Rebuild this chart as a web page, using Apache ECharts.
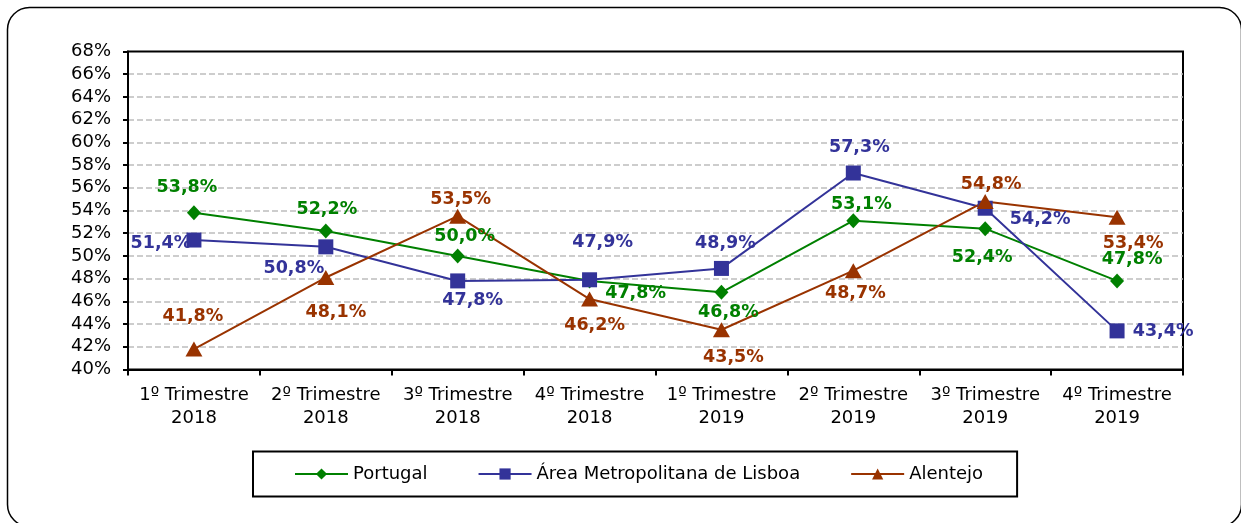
<!DOCTYPE html>
<html>
<head>
<meta charset="utf-8">
<script src="https://cdn.jsdelivr.net/npm/echarts@6/dist/echarts.min.js"></script>
<style>
html,body{margin:0;padding:0;background:#fff;}
#c{width:1241px;height:523px;}
</style>
</head>
<body>
<div id="c"></div>
<script>
var categories = ['1º Trimestre\n2018','2º Trimestre\n2018','3º Trimestre\n2018','4º Trimestre\n2018','1º Trimestre\n2019','2º Trimestre\n2019','3º Trimestre\n2019','4º Trimestre\n2019'];
var portugal = [53.8, 52.2, 50.0, 47.8, 46.8, 53.1, 52.4, 47.8];
var lisboa = [51.4, 50.8, 47.8, 47.9, 48.9, 57.3, 54.2, 43.4];
var alentejo = [41.8, 48.1, 53.5, 46.2, 43.5, 48.7, 54.8, 53.4];
var seriesNames = ['Portugal', 'Área Metropolitana de Lisboa', 'Alentejo'];

// label placement (style only): offsets of label centre from marker centre
var portugalLabelOffsets = [[-7,-25],[1,-21],[7,-19],[46,13],[7,20],[8,-16],[-3,29],[15,-21]];
var lisboaLabelOffsets = [[-33,3],[-32,22],[15,20],[13,-37],[4,-25],[6,-26],[55,11],[46,1]];
var alentejoLabelOffsets = [[-1,-33],[10,35],[3,-17],[5,26],[12,28],[2,23],[6,-17],[16,26]];

var FONT = 'DejaVu Sans';

function fmt(v){ return v.toFixed(1).replace('.', ',') + '%'; }

function buildData(values, offsets, color){
  return values.map(function(v, i){
    return {
      value: v,
      label: {
        show: true,
        position: 'inside',
        offset: offsets[i],
        color: color,
        fontFamily: FONT,
        fontWeight: 'bold',
        fontSize: 17.5,
        formatter: function(p){ return fmt(p.value); }
      }
    };
  });
}

// split line colours: hide the ones at the bottom (40%) and top (68%) borders
var gridColors = [];
for (var k = 0; k < 15; k++) gridColors.push((k === 0 || k === 14) ? 'rgba(0,0,0,0)' : '#bdbdbd');

var chart = echarts.init(document.getElementById('c'), null, {renderer:'canvas'});
chart.setOption({
  animation: false,
  backgroundColor: '#fff',
  graphic: [{
    type: 'rect',
    silent: true,
    z: -10,
    shape: {x: 7.5, y: 7.5, width: 1234, height: 519, r: 22},
    style: {fill: 'none', stroke: '#000', lineWidth: 1.5}
  }],
  grid: {
    left: 128, right: 58, top: 51.5, bottom: 153.5,
    show: true, borderColor: '#000', borderWidth: 2, backgroundColor: 'transparent',
    containLabel: false
  },
  legend: {
    left: 253, top: 451.5,
    padding: [13.5, 34, 13.5, 41],
    borderColor: '#000', borderWidth: 2,
    itemWidth: 53, itemHeight: 14, itemGap: 50,
    textStyle: {fontFamily: FONT, fontSize: 18, color: '#000'},
    data: seriesNames
  },
  xAxis: {
    type: 'category',
    data: categories,
    boundaryGap: true,
    axisLine: {lineStyle: {color: '#000', width: 2}},
    axisTick: {show: true, alignWithLabel: false, length: 6, lineStyle: {color: '#000', width: 2}},
    axisLabel: {interval: 0, margin: 14, color: '#000', fontFamily: FONT, fontSize: 18, lineHeight: 23, align: 'center'},
    splitLine: {show: false}
  },
  yAxis: {
    type: 'value',
    min: 40, max: 68, interval: 2,
    axisLine: {show: true, lineStyle: {color: '#000', width: 2}},
    axisTick: {show: true, length: 5, lineStyle: {color: '#000', width: 2}},
    axisLabel: {margin: 17, color: '#000', fontFamily: FONT, fontSize: 18, formatter: function(v){ return v + '%'; }},
    splitLine: {show: true, lineStyle: {color: gridColors, width: 1.5, type: [6, 3]}}
  },
  series: [
    {
      name: seriesNames[0], type: 'line',
      data: buildData(portugal, portugalLabelOffsets, '#008000'),
      symbol: 'diamond', symbolSize: [14, 15],
      itemStyle: {color: '#008000'},
      lineStyle: {color: '#008000', width: 2}
    },
    {
      name: seriesNames[1], type: 'line',
      data: buildData(lisboa, lisboaLabelOffsets, '#333399'),
      symbol: 'rect', symbolSize: 15,
      itemStyle: {color: '#333399'},
      lineStyle: {color: '#333399', width: 2}
    },
    {
      name: seriesNames[2], type: 'line',
      data: buildData(alentejo, alentejoLabelOffsets, '#993300'),
      symbol: 'triangle', symbolSize: [17, 15],
      itemStyle: {color: '#993300'},
      lineStyle: {color: '#993300', width: 2}
    }
  ]
});
</script>
</body>
</html>
